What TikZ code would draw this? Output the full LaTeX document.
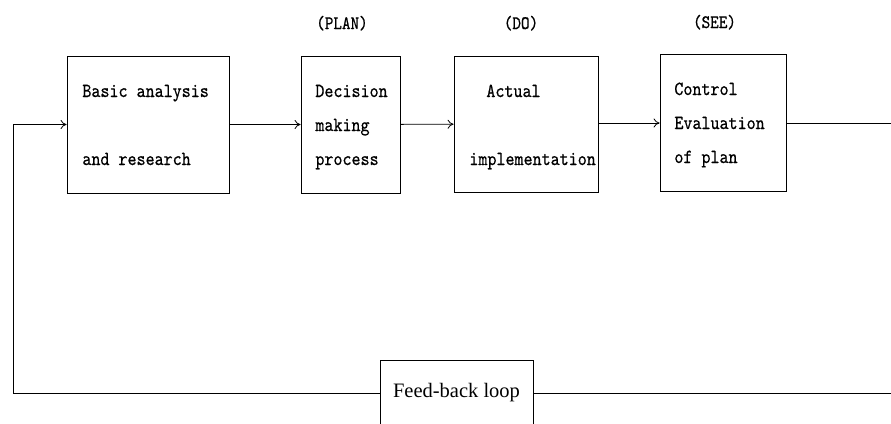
\documentclass[tikz,border=0pt]{standalone}
\usepackage{fontspec}
\usetikzlibrary{arrows.meta}
\newfontfamily\boxfont[FakeStretch=0.86, FakeBold=0.6]{lmmono10-regular.otf}
\newfontfamily\loopfont{Liberation Serif}

\begin{document}
\begin{tikzpicture}[x=1pt, y=-1pt, line width=0.8pt, >={To[length=6pt, width=9pt]},
		blk/.style={draw, inner sep=0pt},
		txt/.style={anchor=base west, inner sep=0pt, font={\boxfont\fontsize{20}{24}\selectfont}},
		hdr/.style={anchor=base, inner sep=0pt, font={\boxfont\fontsize{19}{23}\selectfont}}]
			\clip (0,0) rectangle (891,423);
			% the four stages
			\node [blk, minimum width=162pt, minimum height=137pt] (basic) at (148,124.5) {};
			\node [blk, minimum width=99pt, minimum height=137pt] (decide) at (350.5,124.5) {};
			\node [blk, minimum width=144pt, minimum height=136pt] (act) at (526,124) {};
			\node [blk, minimum width=126pt, minimum height=137pt] (control) at (723,123) {};
			\node [blk, minimum width=153pt, minimum height=66pt, font={\loopfont\fontsize{20.5}{24}\selectfont}] (loop) at (456.5,393) {Feed-back loop};
			% texts
			\node [txt] (basicA) at (82,97) {Basic analysis};
			\node [txt] (basicB) at (82,165) {and research};
			\node [txt] (decideA) at (315,97) {Decision};
			\node [txt] (decideB) at (315,131) {making};
			\node [txt] (decideC) at (315,165) {process};
			\node [txt] (actA) at (486,97) {Actual};
			\node [txt] (actB) at (469,165) {implementation};
			\node [txt] (controlA) at (674,95) {Control};
			\node [txt] (controlB) at (674,129) {Evaluation};
			\node [txt] (controlC) at (674,163) {of plan};
			\node [hdr] (plan) at (342,29) {(PLAN)};
			\node [hdr] (do) at (521,29) {(DO)};
			\node [hdr] (see) at (714.5,28) {(SEE)};
			% connectors
			\coordinate (rtop) at (895,123);
			\coordinate (lbot) at (13,393);
			\draw [->] (basic) -- (decide);
			\draw [->] (decide) -- (act);
			\draw [->] (act.east |- control.west) -- (control.west);
			\draw (control.east) -- (rtop) |- (loop.east);
			\draw [->] (loop.west) -- (lbot) |- (basic.west);
		\end{tikzpicture}
\end{document}
